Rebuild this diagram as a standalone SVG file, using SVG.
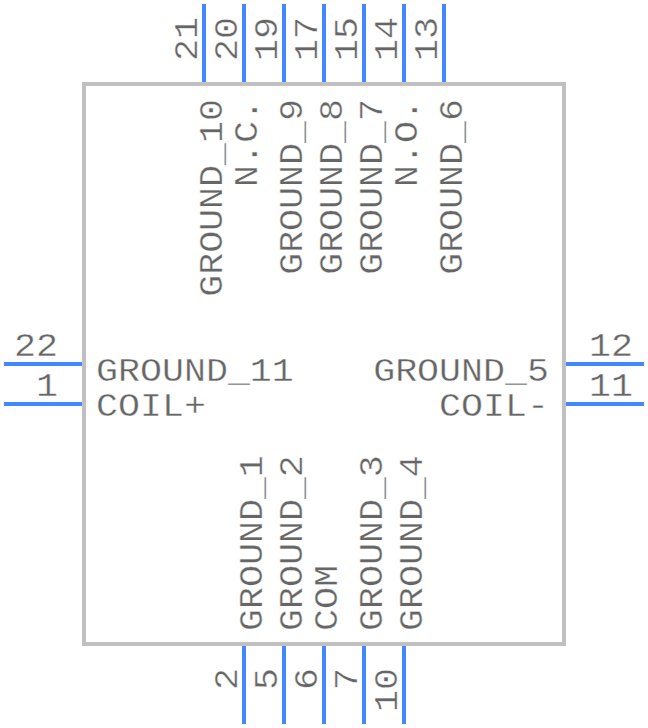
<svg xmlns="http://www.w3.org/2000/svg" width="648" height="728" viewBox="0 0 648 728">
<style>
text{font-family:"Liberation Mono","DejaVu Sans Mono",monospace;font-size:33px;fill:#666666;stroke:#ffffff;stroke-width:.35px}
.e{text-anchor:end}
.p{stroke:#4488ff;stroke-width:4;fill:none}
</style>
<rect width="648" height="728" fill="#ffffff"/>
<g id="body"><rect x="84" y="84" width="480" height="560" fill="none" stroke="#c0c0c0" stroke-width="4"/></g>
<g id="connectors">
<path class="p" d="M204 4V82M244 4V82M284 4V82M324 4V82M364 4V82M404 4V82M444 4V82"/>
<path class="p" d="M244 646V724M284 646V724M324 646V724M364 646V724M404 646V724"/>
<path class="p" d="M4 364H82M4 404H82M566 364H644M566 404H644"/>
</g>
<g id="pin-numbers">
<text class="e" transform="translate(197 17) rotate(-90) scale(1.11 1)">21</text>
<text class="e" transform="translate(237 17) rotate(-90) scale(1.11 1)">20</text>
<text class="e" transform="translate(277 17) rotate(-90) scale(1.11 1)">19</text>
<text class="e" transform="translate(317 17) rotate(-90) scale(1.11 1)">17</text>
<text class="e" transform="translate(357 17) rotate(-90) scale(1.11 1)">15</text>
<text class="e" transform="translate(397 17) rotate(-90) scale(1.11 1)">14</text>
<text class="e" transform="translate(437 17) rotate(-90) scale(1.11 1)">13</text>
<text class="e" transform="translate(237 668) rotate(-90) scale(1.11 1)">2</text>
<text class="e" transform="translate(277 668) rotate(-90) scale(1.11 1)">5</text>
<text class="e" transform="translate(317 668) rotate(-90) scale(1.11 1)">6</text>
<text class="e" transform="translate(357 668) rotate(-90) scale(1.11 1)">7</text>
<text class="e" transform="translate(397 668) rotate(-90) scale(1.11 1)">10</text>
<text class="e" transform="translate(58 356) scale(1.11 1)">22</text>
<text class="e" transform="translate(58 396) scale(1.11 1)">1</text>
<text transform="translate(589 356) scale(1.11 1)">12</text>
<text transform="translate(589 396) scale(1.11 1)">11</text>
</g>
<g id="labels">
<text class="e" transform="translate(222 99) rotate(-90) scale(1.11 1)">GROUND_10</text>
<text class="e" transform="translate(257 99) rotate(-90) scale(1.11 1)">N.C.</text>
<text class="e" transform="translate(302 99) rotate(-90) scale(1.11 1)">GROUND_9</text>
<text class="e" transform="translate(342 99) rotate(-90) scale(1.11 1)">GROUND_8</text>
<text class="e" transform="translate(382 99) rotate(-90) scale(1.11 1)">GROUND_7</text>
<text class="e" transform="translate(417 99) rotate(-90) scale(1.11 1)">N.O.</text>
<text class="e" transform="translate(462 99) rotate(-90) scale(1.11 1)">GROUND_6</text>
<text transform="translate(262 631) rotate(-90) scale(1.11 1)">GROUND_1</text>
<text transform="translate(302 631) rotate(-90) scale(1.11 1)">GROUND_2</text>
<text transform="translate(337 631) rotate(-90) scale(1.11 1)">COM</text>
<text transform="translate(382 631) rotate(-90) scale(1.11 1)">GROUND_3</text>
<text transform="translate(422 631) rotate(-90) scale(1.11 1)">GROUND_4</text>
<text transform="translate(96 381) scale(1.11 1)">GROUND_11</text>
<text transform="translate(96 416) scale(1.11 1)">COIL+</text>
<text class="e" transform="translate(549 381) scale(1.11 1)">GROUND_5</text>
<text class="e" transform="translate(549 416) scale(1.11 1)">COIL-</text>
</g>
</svg>
